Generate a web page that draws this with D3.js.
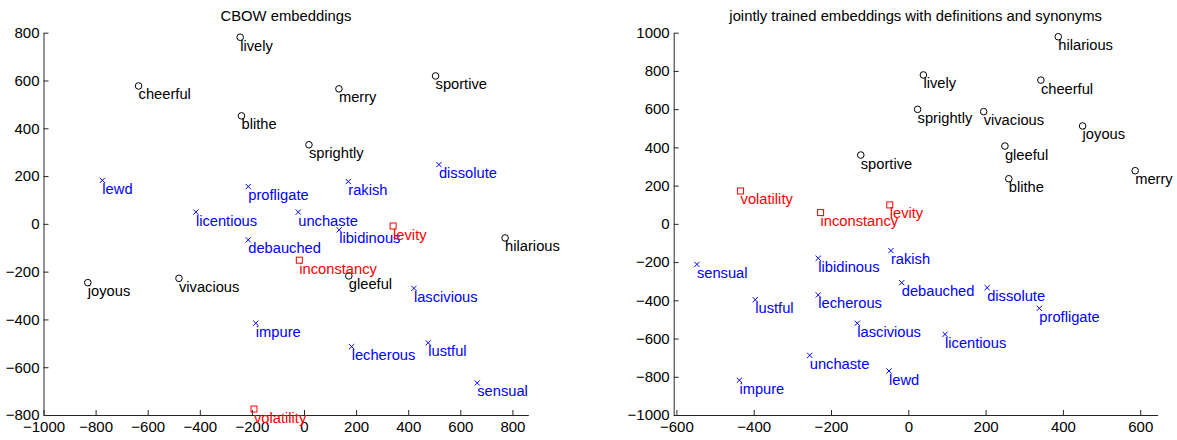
<!DOCTYPE html>
<html>
<head>
<meta charset="utf-8">
<script src="https://cdn.jsdelivr.net/npm/d3@7"></script>
<style>
  html, body { margin: 0; padding: 0; background: #fff; }
  svg { display: block; font-family: "Liberation Sans", Arial, Helvetica, sans-serif; }
</style>
</head>
<body>
<svg id="chart" width="1177" height="440"></svg>
<script>
// Words, grouped by meaning
const joyWords = ["lively", "cheerful", "blithe", "merry", "sportive", "sprightly",
                  "hilarious", "gleeful", "joyous", "vivacious"];
const lustWords = ["lewd", "profligate", "licentious", "dissolute", "rakish", "unchaste",
                   "libidinous", "debauched", "lascivious", "lecherous", "lustful", "sensual", "impure"];
const fickleWords = ["levity", "inconstancy", "volatility"];
const words = joyWords.concat(lustWords, fickleWords);

// 2-D projections, same order as `words`
const cbowX = [-245, -635, -240, 134, 505, 19, 772, 172, -830, -480,
               -774, -214, -415, 518, 170, -22, 135, -214, 422, 183, 477, 665, -185,
               342, -18, -192];
const cbowY = [781, 577, 452, 565, 619, 331, -59, -218, -246, -228,
               182, 156, 49, 248, 177, 49, -25, -67, -270, -514, -498, -666, -416,
               -9, -152, -775];
const jointX = [39, 343, 260, 587, -123, 24, 388, 250, 451, 195,
                -50, 339, 95, 204, -45, -255, -233, -17, -132, -233, -396, -547, -437,
                -48, -227, -434];
const jointY = [779, 752, 236, 278, 360, 599, 979, 407, 512, 587,
                -770, -442, -578, -334, -140, -688, -180, -308, -520, -372, -397, -212, -818,
                99, 59, 172];

// Axis limits and ticks
const cbowXDomain = [-1000, 861];
const cbowYDomain = [-800, 800];
const cbowXTicks = [-1000, -800, -600, -400, -200, 0, 200, 400, 600, 800];
const cbowYTicks = [-800, -600, -400, -200, 0, 200, 400, 600, 800];
const jointXDomain = [-607, 645];
const jointYDomain = [-1000, 1000];
const jointXTicks = [-600, -400, -200, 0, 200, 400, 600];
const jointYTicks = [-1000, -800, -600, -400, -200, 0, 200, 400, 600, 800, 1000];

const titles = ["CBOW embeddings", "jointly trained embeddings with definitions and synonyms"];

function groupOf(w) {
  if (joyWords.includes(w)) return "joy";
  if (lustWords.includes(w)) return "lust";
  return "fickle";
}
const colorOf = { joy: "#000000", lust: "#0000ff", fickle: "#ff0000" };

const svg = d3.select("#chart");
const fmt = d3.format("");

function panel(cfg) {
  const x = d3.scaleLinear().domain(cfg.xDomain).range([cfg.left, cfg.right]);
  const y = d3.scaleLinear().domain(cfg.yDomain).range([cfg.bottom, cfg.top]);
  const g = svg.append("g");

  const xAxis = d3.axisBottom(x).tickValues(cfg.xTicks).tickFormat(fmt)
    .tickSizeInner(-5).tickSizeOuter(0).tickPadding(6);
  const yAxis = d3.axisLeft(y).tickValues(cfg.yTicks).tickFormat(fmt)
    .tickSizeInner(-5).tickSizeOuter(0).tickPadding(4);

  const gx = g.append("g").attr("transform", `translate(0,${cfg.bottom})`).call(xAxis);
  const gy = g.append("g").attr("transform", `translate(${cfg.left},0)`).call(yAxis);
  [gx, gy].forEach(a => {
    a.selectAll("path.domain").attr("stroke", "#262626").attr("stroke-width", 1);
    a.selectAll(".tick line").attr("stroke", "#262626").attr("stroke-width", 1);
    a.selectAll(".tick text").attr("fill", "#000").style("font-size", "15px")
      .style("font-family", "'Liberation Sans', Arial, sans-serif");
  });

  g.append("text")
    .attr("x", (cfg.left + cfg.right) / 2)
    .attr("y", 21)
    .attr("text-anchor", "middle")
    .style("font-size", "14.8px")
    .attr("fill", "#000")
    .text(cfg.title);

  const pts = words.map((w, i) => ({ w, x: cfg.xs[i], y: cfg.ys[i], grp: groupOf(w) }));
  const marks = g.append("g");

  pts.forEach(p => {
    const cx = x(p.x), cy = y(p.y), col = colorOf[p.grp];
    if (p.grp === "joy") {
      marks.append("circle").attr("cx", cx).attr("cy", cy).attr("r", 3.3)
        .attr("fill", "none").attr("stroke", col).attr("stroke-width", 1);
    } else if (p.grp === "lust") {
      const s = 2.6;
      marks.append("path")
        .attr("d", `M${cx - s},${cy - s}L${cx + s},${cy + s}M${cx - s},${cy + s}L${cx + s},${cy - s}`)
        .attr("stroke", col).attr("stroke-width", 1).attr("fill", "none");
    } else {
      marks.append("rect").attr("x", cx - 3).attr("y", cy - 3).attr("width", 6).attr("height", 6)
        .attr("fill", "none").attr("stroke", col).attr("stroke-width", 1);
    }
    marks.append("text")
      .attr("x", cx)
      .attr("y", cy + 13.5)
      .attr("fill", col)
      .style("font-size", "14.7px")
      .text(p.w);
  });
}

panel({ left: 43.5, right: 528.3, top: 32.7, bottom: 415,
        xDomain: cbowXDomain, yDomain: cbowYDomain,
        xTicks: cbowXTicks, yTicks: cbowYTicks,
        xs: cbowX, ys: cbowY, title: titles[0] });

panel({ left: 673.7, right: 1157.6, top: 32.7, bottom: 415,
        xDomain: jointXDomain, yDomain: jointYDomain,
        xTicks: jointXTicks, yTicks: jointYTicks,
        xs: jointX, ys: jointY, title: titles[1] });
</script>
</body>
</html>
